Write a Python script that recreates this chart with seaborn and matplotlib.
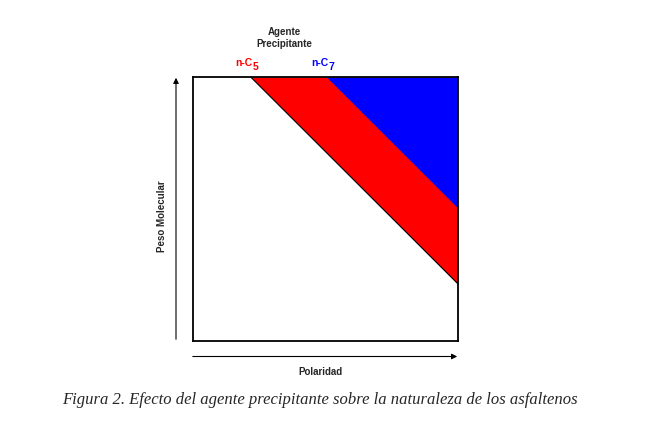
import numpy as np
import seaborn as sns
import matplotlib.pyplot as plt
from matplotlib.patches import FancyArrowPatch

# onset of precipitation along the polarity axis for each solvent (fraction of box)
solvents = ['n-C', 'n-C']
sub_idx = ['5', '7']
onset = [0.218, 0.505]
colors = ['#ff0000', '#0000ff']
x_label = 'Polaridad'
y_label = 'Peso Molecular'
top_label = 'Agente\nPrecipitante'
caption = 'Figura 2. Efecto del agente precipitante sobre la naturaleza de los asfaltenos'

sns.set_theme(style='white')
plt.rcParams['font.family'] = ['Liberation Sans', 'DejaVu Sans']

W, H = 665, 422
fig = plt.figure(figsize=(W / 100, H / 100), dpi=100)
ax = fig.add_axes([193 / W, 1 - 341 / H, 264.5 / W, 264 / H])

x = np.linspace(0, 1, 201)
# red band: between the n-C5 line and the n-C7 line; blue: above n-C7 line
lo5 = 1 - (x - onset[0])
lo7 = 1 - (x - onset[1])
ax.fill_between(x, np.clip(lo5, 0, 1), 1, where=lo5 <= 1, color=colors[0], lw=0)
ax.fill_between(x, np.clip(lo7, 0, 1), 1, where=lo7 <= 1, color=colors[1], lw=0)
mask = lo5 <= 1
sns.lineplot(x=x[mask], y=lo5[mask], ax=ax, color='black', lw=0.8)

ax.set_xlim(0, 1)
ax.set_ylim(0, 1)
ax.set_xticks([])
ax.set_yticks([])
for s in ax.spines.values():
    s.set_color('black')
    s.set_linewidth(1.3)

for name, sub, xo, c in zip(solvents, sub_idx, onset, colors):
    ax.annotate(name, (xo, 1), xycoords=('data', 'axes fraction'),
                xytext=(1.5, 8), textcoords='offset points', color=c,
                ha='right', va='baseline', fontsize=7.5, fontweight='bold')
    ax.annotate(sub, (xo, 1), xycoords=('data', 'axes fraction'),
                xytext=(1.5, 5), textcoords='offset points', color=c,
                ha='left', va='baseline', fontsize=7.5, fontweight='bold')

fig.text(284 / W, 1 - 38 / H, top_label, ha='center', va='center',
         fontsize=7, fontweight='bold', linespacing=1.2)
fig.text(320 / W, 1 - 372 / H, x_label, ha='center', va='center',
         fontsize=7, fontweight='bold')
fig.text(162 / W, 1 - 216 / H, y_label, ha='center', va='center',
         fontsize=7, fontweight='bold', rotation=90)

arrow = dict(arrowstyle='-|>', color='black', lw=0.8, mutation_scale=8)
fig.add_artist(FancyArrowPatch(
    (176 / W, 1 - 342 / H), (176 / W, 1 - 75 / H), transform=fig.transFigure, **arrow))
fig.add_artist(FancyArrowPatch(
    (190 / W, 1 - 356.5 / H), (460 / W, 1 - 356.5 / H), transform=fig.transFigure, **arrow))

fig.text(62 / W, 1 - 404 / H, caption, ha='left', va='baseline',
         fontsize=11.95, style='italic', family='Liberation Serif')

fig.savefig('out.png', dpi=100)
